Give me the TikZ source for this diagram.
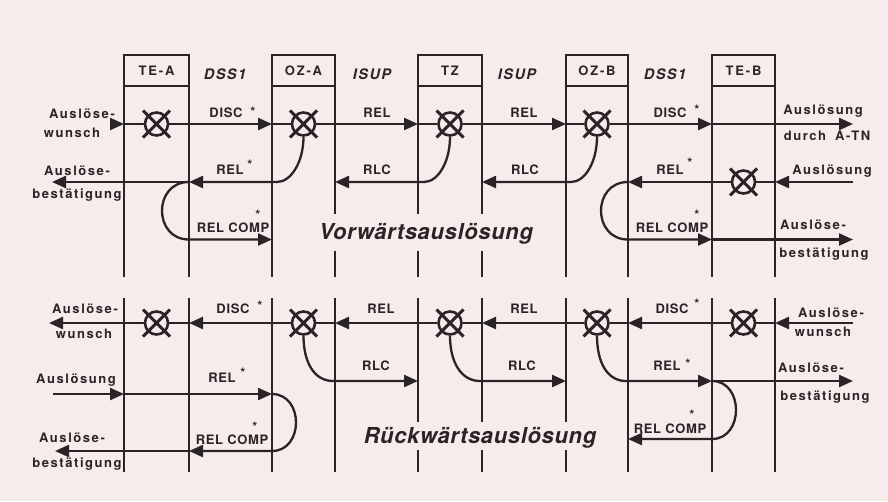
\documentclass[tikz,border=0pt]{standalone}
\usepackage{fontspec}
\setmainfont{TeX Gyre Heros}
\newfontfamily\sidefont[LetterSpace=12]{TeX Gyre Heros}
\newfontfamily\msgfont[LetterSpace=5]{TeX Gyre Heros}
\newfontfamily\hdrfont[LetterSpace=14]{TeX Gyre Heros}
\newfontfamily\protofont[LetterSpace=10]{TeX Gyre Heros}
\newfontfamily\titlefont[LetterSpace=3]{TeX Gyre Heros}
\usetikzlibrary{arrows.meta}
\definecolor{bg}{HTML}{F6ECEC}
\definecolor{ink}{HTML}{2B2426}
\begin{document}
\begin{tikzpicture}[x=1pt,y=-1pt,
  life/.style={ink,line width=2.6pt},
  msg/.style={ink,line width=2.3pt},
  withtip/.style={-{Triangle[length=14pt,width=12pt]}},
  hdr/.style={draw=ink,line width=2.6pt,minimum height=31pt,inner sep=0pt,outer sep=0pt,
    text height=9.3pt,text depth=0pt,text=ink,font=\hdrfont\fontsize{13}{15}\selectfont\bfseries},
  sidelab/.style={inner sep=0pt,text=ink,text height=9.4pt,text depth=0pt,
    font=\sidefont\fontsize{13}{15}\selectfont\bfseries},
  msglab/.style={inner sep=0pt,text=ink,text height=9.3pt,text depth=0pt,
    font=\msgfont\fontsize{13}{15}\selectfont\bfseries},
  protolab/.style={inner sep=0pt,text=ink,text height=10.4pt,text depth=0pt,
    font=\protofont\fontsize{14.5}{17}\selectfont\bfseries\itshape},
  astlab/.style={inner sep=0pt,anchor=base,text=ink,font=\fontsize{13}{15}\selectfont\bfseries},
  titlelab/.style={fill=bg,inner xsep=4pt,inner ysep=0pt,text=ink,text height=15.8pt,text depth=0pt,
    font=\titlefont\fontsize{22}{26}\selectfont\bfseries\itshape},
  pics/xcross/.style={code={
    \node[draw=ink,fill=bg,circle,line width=2.6pt,minimum size=23pt,inner sep=0pt] (-c) {};
    \draw[ink,line width=2.9pt] (-13.5,-13.5) -- (13.5,13.5) (-13.5,13.5) -- (13.5,-13.5);
  }}
]
\useasboundingbox (0,0) rectangle (888,501);
\fill[bg] (0,0) rectangle (888,501);

% ---------- header boxes and life lines (upper part)
\node[hdr,minimum width=65pt] (TEA) at (156.5,70.5) {TE-A};
\node[hdr,minimum width=63pt] (OZA) at (303.5,70.5) {OZ-A};
\node[hdr,minimum width=64pt] (TZ)  at (450,70.5)   {TZ};
\node[hdr,minimum width=62pt] (OZB) at (597,70.5)   {OZ-B};
\node[hdr,minimum width=63pt] (TEB) at (743.5,70.5) {TE-B};
\coordinate (topend) at (0,277);
\foreach \b in {TEA,OZA,TZ,OZB,TEB}{
  \draw[life] (\b.south west) -- (\b.south west |- topend);
  \draw[life] (\b.south east) -- (\b.south east |- topend);
}
% ---------- life lines (lower part)
\foreach \xx in {124,189,272,335,418,482,566,628,712,775}{
  \draw[life] (\xx,298) -- (\xx,472);
}

% ---------- named crossing points
\foreach \n/\xx in {a/124,b/189,c/272,d/335,e/418,f/482,g/566,h/628,i/712,j/775}{
  \foreach \r/\yy in {1/124,2/182,3/239.5,4/323,5/381,6/394,7/451,8/439}{
    \coordinate (\n\r) at (\xx,\yy);
  }
}
\coordinate (L1) at (113,124);
\coordinate (R1) at (853,124);
\coordinate (L2) at (52,182);
\coordinate (R2) at (853,182);
\coordinate (R3) at (853,239.5);
\coordinate (L4) at (49,323);
\coordinate (R4) at (853,323);
\coordinate (R5) at (853,381);
\coordinate (L6) at (53,394);
\coordinate (L7) at (55,451);
\coordinate (kB2) at (277,182);
\coordinate (kC2) at (424,182);
\coordinate (kD2) at (571,182);
\coordinate (mB5) at (333,381);
\coordinate (mC5) at (480,381);
\coordinate (mD5) at (626,381);

% ---------- release symbols
\pic (xA) at (156.5,124) {xcross};
\pic (xB) at (303.5,124) {xcross};
\pic (xC) at (450,124) {xcross};
\pic (xD) at (597,124) {xcross};
\pic (xE) at (743.5,182) {xcross};
\pic (yA) at (156.5,323) {xcross};
\pic (yB) at (303.5,323) {xcross};
\pic (yC) at (450,323) {xcross};
\pic (yD) at (597,323) {xcross};
\pic (yE) at (743.5,323) {xcross};

% ---------- upper part: messages
\draw[msg,withtip] (L1) -- (a1);
\draw[msg] (a1) -- (xA-c);
\draw[msg,withtip] (xA-c) -- (c1);
\draw[msg] (c1) -- (xB-c);
\draw[msg,withtip] (xB-c) -- (e1);
\draw[msg] (e1) -- (xC-c);
\draw[msg,withtip] (xC-c) -- (g1);
\draw[msg] (g1) -- (xD-c);
\draw[msg,withtip] (xD-c) -- (i1);
\draw[msg,withtip] (i1) -- (R1);

\draw[msg,withtip] (xB-c.south) .. controls (303.5,162) and (291,182) .. (kB2) -- (b2);
\draw[msg,withtip] (b2) -- (L2);
\draw[msg,withtip] (b2) .. controls (153,182) and (153,239.5) .. (b3) -- (c3);
\draw[msg,withtip] (xC-c.south) .. controls (450,162) and (438,182) .. (kC2) -- (d2);
\draw[msg,withtip] (xD-c.south) .. controls (597,162) and (585,182) .. (kD2) -- (f2);

\draw[msg,withtip] (R2) -- (j2);
\draw[msg] (j2) -- (xE-c);
\draw[msg,withtip] (xE-c) -- (h2);
\draw[msg,withtip] (h2) .. controls (592,182) and (592,239.5) .. (h3) -- (i3);
\draw[msg,withtip] (i3) -- (R3);

% ---------- lower part: messages
\draw[msg,withtip] (R4) -- (j4);
\draw[msg] (j4) -- (yE-c);
\draw[msg,withtip] (yE-c) -- (h4);
\draw[msg] (h4) -- (yD-c);
\draw[msg,withtip] (yD-c) -- (f4);
\draw[msg] (f4) -- (yC-c);
\draw[msg,withtip] (yC-c) -- (d4);
\draw[msg] (d4) -- (yB-c);
\draw[msg,withtip] (yB-c) -- (b4);
\draw[msg] (b4) -- (yA-c);
\draw[msg,withtip] (yA-c) -- (L4);

\draw[msg,withtip] (yB-c.south) .. controls (303.5,362) and (314,381) .. (mB5) -- (e5);
\draw[msg,withtip] (yC-c.south) .. controls (450,362) and (461,381) .. (mC5) -- (g5);
\draw[msg,withtip] (yD-c.south) .. controls (597,362) and (607,381) .. (mD5) -- (i5);
\draw[msg,withtip] (i5) -- (R5);
\draw[msg,withtip] (i5) .. controls (744,381) and (744,439) .. (i8) -- (h8);

\draw[msg,withtip] (L6) -- (a6);
\draw[msg,withtip] (a6) -- (c6);
\draw[msg,withtip] (c6) .. controls (304,394) and (304,451) .. (c7) -- (b7);
\draw[msg,withtip] (b7) -- (L7);

% ---------- protocol names
\node[protolab] (p1) at (225,74) {DSS1};
\node[protolab] (p2) at (372,74) {ISUP};
\node[protolab] (p3) at (517,74) {ISUP};
\node[protolab] (p4) at (665,74) {DSS1};

% ---------- message labels, upper part
\node[msglab] (t1) at (226,113) {DISC};
\node[msglab] (t2) at (377,113) {REL};
\node[msglab] (t3) at (524,113) {REL};
\node[msglab] (t4) at (670,113) {DISC};
\node[msglab] (t5) at (230,170) {REL};
\node[msglab] (t6) at (377,170) {RLC};
\node[msglab] (t7) at (525,170) {RLC};
\node[msglab] (t8) at (670,170) {REL};
\node[msglab] (t9) at (233,228) {REL COMP};
\node[msglab] (t10) at (672,228) {REL COMP};
\node[astlab] (a1s) at (253,116.3) {*};
\node[astlab] (a2s) at (250,169.3) {*};
\node[astlab] (a3s) at (258,219.3) {*};
\node[astlab] (a4s) at (697,114.3) {*};
\node[astlab] (a5s) at (690,167.3) {*};
\node[astlab] (a6s) at (697,219.3) {*};

% ---------- message labels, lower part
\node[msglab] (u1) at (233,309) {DISC};
\node[msglab] (u2) at (381,309) {REL};
\node[msglab] (u3) at (524,309) {REL};
\node[msglab] (u4) at (672,309) {DISC};
\node[msglab] (u5) at (376,366) {RLC};
\node[msglab] (u6) at (522,366) {RLC};
\node[msglab] (u7) at (667,366) {REL};
\node[msglab] (u8) at (222,378) {REL};
\node[msglab] (u9) at (232,440) {REL COMP};
\node[msglab] (u10) at (670,429) {REL COMP};
\node[astlab] (b1s) at (260,310.3) {*};
\node[astlab] (b2s) at (243,377.3) {*};
\node[astlab] (b3s) at (255,431.3) {*};
\node[astlab] (b4s) at (697,308.3) {*};
\node[astlab] (b5s) at (688,368.3) {*};
\node[astlab] (b6s) at (692,419.8) {*};

% ---------- side labels
\node[sidelab] (s1) at (82,114) {Auslöse-};
\node[sidelab] (s2) at (72,133) {wunsch};
\node[sidelab] (s3) at (77,170.5) {Auslöse-};
\node[sidelab] (s4) at (77,194) {bestätigung};
\node[sidelab] (s5) at (823,110) {Auslösung};
\node[sidelab] (s6) at (827,136) {durch\hspace{9pt}A-TN};
\node[sidelab] (s7) at (832,170) {Auslösung};
\node[sidelab] (s8) at (813,225) {Auslöse-};
\node[sidelab] (s9) at (824,253) {bestätigung};
\node[sidelab] (s10) at (85,309) {Auslöse-};
\node[sidelab] (s11) at (84,334) {wunsch};
\node[sidelab] (s12) at (76,379) {Auslösung};
\node[sidelab] (s13) at (72,438) {Auslöse-};
\node[sidelab] (s14) at (77,463) {bestätigung};
\node[sidelab] (s15) at (831,313) {Auslöse-};
\node[sidelab] (s16) at (823,332) {wunsch};
\node[sidelab] (s17) at (811,368) {Auslöse-};
\node[sidelab] (s18) at (825,396) {bestätigung};

% ---------- titles
\node[titlelab,minimum height=37pt] (vor) at (426,232) {Vorwärtsauslösung};
\node[titlelab,minimum height=28pt] (rueck) at (480,436) {Rückwärtsauslösung};
\end{tikzpicture}
\end{document}
